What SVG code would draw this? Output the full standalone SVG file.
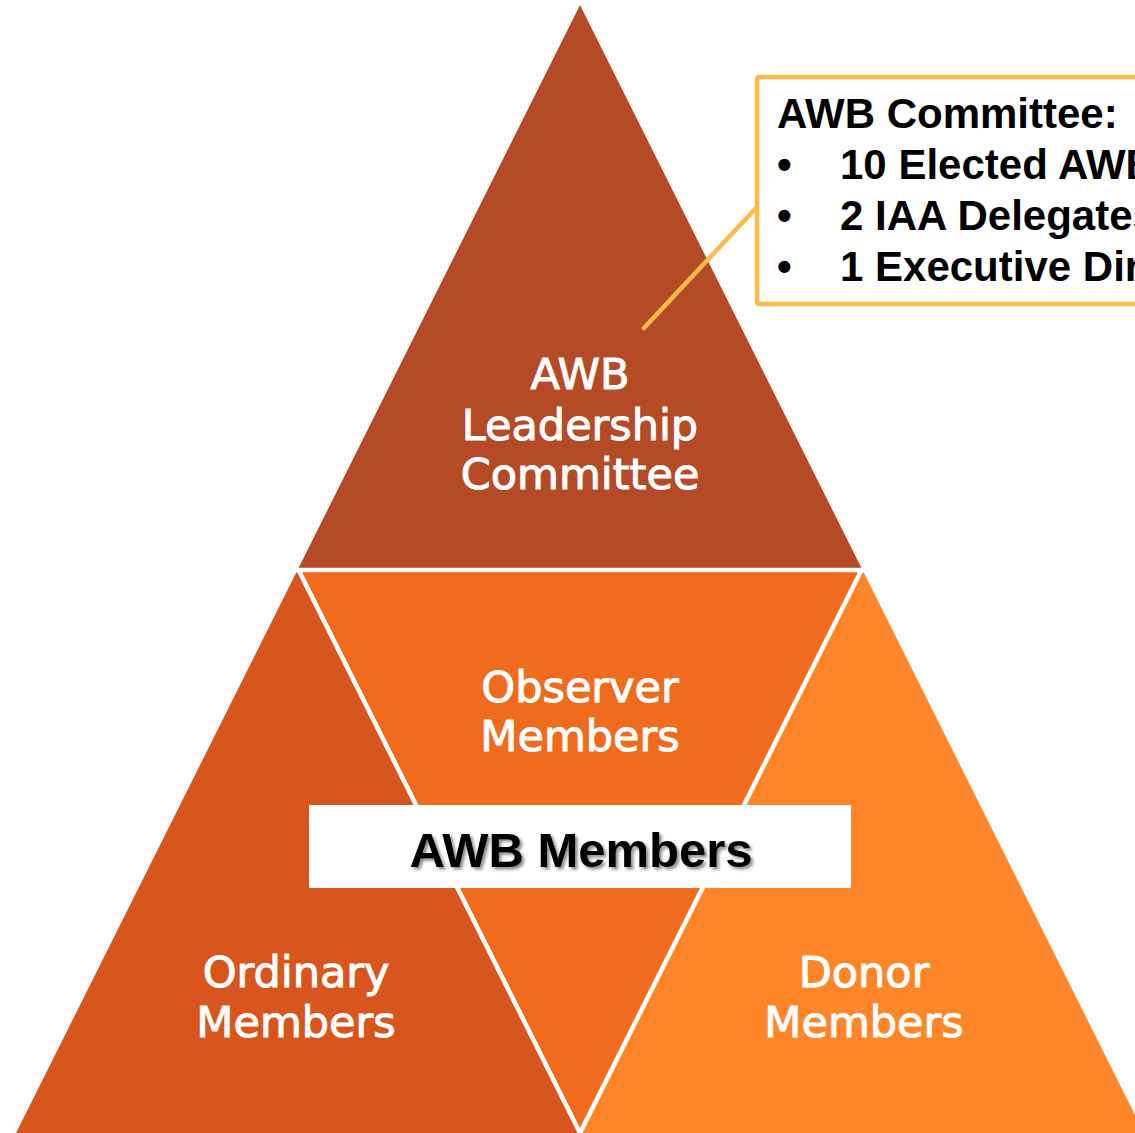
<svg xmlns="http://www.w3.org/2000/svg" width="1135" height="1133" viewBox="0 0 1135 1133">
  <defs>
    <filter id="shadow" x="-10%" y="-20%" width="120%" height="150%">
      <feDropShadow dx="2.5" dy="2.5" stdDeviation="1.5" flood-color="#000000" flood-opacity="0.45"/>
    </filter>
    <style>
      .lbl { font-family: "DejaVu Sans", "Liberation Sans", sans-serif; font-size: 43px; fill: #ffffff; stroke: #ffffff; stroke-width: 1px; text-anchor: middle; }
      .call { font-family: "Liberation Sans", Arial, sans-serif; font-size: 42px; font-weight: bold; fill: #000000; }
      .divider { stroke: #ffffff; stroke-width: 4.5; stroke-linecap: butt; fill: none; }
      .connector { stroke: #FFBA48; stroke-width: 4.5; stroke-linecap: round; fill: none; }
    </style>
  </defs>
  <rect x="0" y="0" width="1135" height="1133" fill="#ffffff"/>

  <g id="leadership">
    <polygon points="580,5 298,569 862,569" fill="#B54A26"/>
    <text class="lbl" x="580" y="389">AWB</text>
    <text class="lbl" x="580" y="440">Leadership</text>
    <text class="lbl" x="580" y="489">Committee</text>
  </g>

  <g id="ordinary">
    <polygon points="298,569 16,1133 580,1133" fill="#D8561E"/>
    <text class="lbl" x="296" y="987">Ordinary</text>
    <text class="lbl" x="296" y="1037">Members</text>
  </g>

  <g id="observer">
    <polygon points="298,569 862,569 580,1133" fill="#EF6C1E"/>
    <text class="lbl" x="580" y="702">Observer</text>
    <text class="lbl" x="580" y="751">Members</text>
  </g>

  <g id="donor">
    <polygon points="862,569 580,1133 1144,1133" fill="#FE8628"/>
    <text class="lbl" x="864" y="987">Donor</text>
    <text class="lbl" x="864" y="1037">Members</text>
  </g>

  <g id="dividers">
    <line class="divider" x1="290" y1="570" x2="870" y2="570"/>
    <line class="divider" x1="298" y1="569" x2="580" y2="1133"/>
    <line class="divider" x1="862" y1="569" x2="580" y2="1133"/>
  </g>

  <g id="awb-members">
    <rect x="309" y="805" width="542" height="83" fill="#ffffff"/>
    <text x="581" y="867" text-anchor="middle" font-family="Liberation Sans, Arial, sans-serif" font-size="49" font-weight="bold" fill="#000000" filter="url(#shadow)">AWB Members</text>
  </g>

  <g id="connectors">
    <line class="connector" x1="644" y1="328" x2="757" y2="207"/>
  </g>

  <g id="callout">
    <rect x="757" y="77" width="430" height="227" rx="2" fill="#ffffff" stroke="#FFBA48" stroke-width="4.5"/>
    <text class="call" x="777" y="128">AWB Committee:</text>
    <text class="call" x="777" y="179">•</text>
    <text class="call" x="840" y="179">10 Elected AWB</text>
    <text class="call" x="777" y="230">•</text>
    <text class="call" x="840" y="230">2 IAA Delegates</text>
    <text class="call" x="777" y="281">•</text>
    <text class="call" x="840" y="281">1 Executive Dir</text>
  </g>
</svg>
